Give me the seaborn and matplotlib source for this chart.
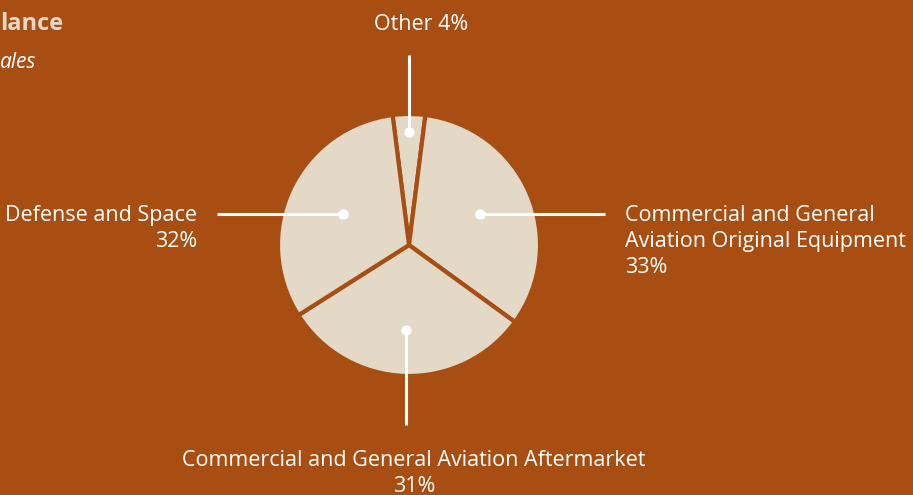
import numpy as np
import matplotlib
matplotlib.use("Agg")
import matplotlib.pyplot as plt
import seaborn as sns

# Data
segments = ["Other", "Commercial and General\nAviation Original Equipment",
            "Commercial and General Aviation Aftermarket", "Defense and Space"]
shares = [4, 33, 31, 32]

BG = "#A84E12"
PIE = "#E3D9C6"
W, H = 913, 495

sns.set_theme(style="white", rc={"figure.facecolor": BG, "axes.facecolor": BG})
plt.rcParams["font.family"] = ["Open Sans", "DejaVu Sans"]

fig = plt.figure(figsize=(W / 100, H / 100), dpi=100)
ax = fig.add_axes([0, 0, 1, 1])

cx, cy, r = 409, H - 245, 131
start = 90 + shares[0] / 100 * 360 / 2
wedges, _ = ax.pie(shares, colors=[PIE] * 4, startangle=start, counterclock=False,
                   center=(cx, cy), radius=r, frame=True,
                   wedgeprops=dict(edgecolor=BG, linewidth=3))
ax.set_xlim(0, W)
ax.set_ylim(0, H)
ax.set_aspect("equal")
ax.axis("off")

# leader dots and lines from the middle of each wedge
dot_frac = [0.86, 0.59, 0.65, 0.56]
for i, (w, f) in enumerate(zip(wedges, dot_frac)):
    mid = np.deg2rad((w.theta1 + w.theta2) / 2)
    dx, dy = cx + f * r * np.cos(mid), cy + f * r * np.sin(mid)
    if i == 0:
        ax.plot([dx, dx], [dy, H - 55], color="white", lw=2.2, solid_capstyle="butt")
    elif i == 1:
        ax.plot([dx, 605], [dy, dy], color="white", lw=2.2, solid_capstyle="butt")
    elif i == 2:
        ax.plot([dx, dx], [dy, H - 425], color="white", lw=2.2, solid_capstyle="butt")
    else:
        ax.plot([dx, 217], [dy, dy], color="white", lw=2.2, solid_capstyle="butt")
    ax.scatter([dx], [dy], s=55, color="white", zorder=5, linewidths=0)

fs = 15.5
ls = 1.3
ax.text(421, H - 24, f"{segments[0]} {shares[0]}%", color="white", fontsize=fs,
        ha="center", va="center")
ax.text(625, H - 205, f"{segments[1]}\n{shares[1]}%", color="white", fontsize=fs,
        ha="left", va="top", linespacing=ls)
ax.text(414, H - 450, f"{segments[2]}\n{shares[2]}%", color="white", fontsize=fs,
        ha="center", va="top", linespacing=ls)
ax.text(197, H - 205, f"{segments[3]}\n{shares[3]}%", color="white", fontsize=fs,
        ha="right", va="top", linespacing=ls)

# title fragments at top left
ax.text(0, H - 24, "lance", color=PIE, fontsize=17, fontweight="bold",
        ha="left", va="center")
ax.text(0, H - 62, "ales", color="white", fontsize=15, fontstyle="italic",
        ha="left", va="center")

fig.savefig("out.png", dpi=100, facecolor=BG)
